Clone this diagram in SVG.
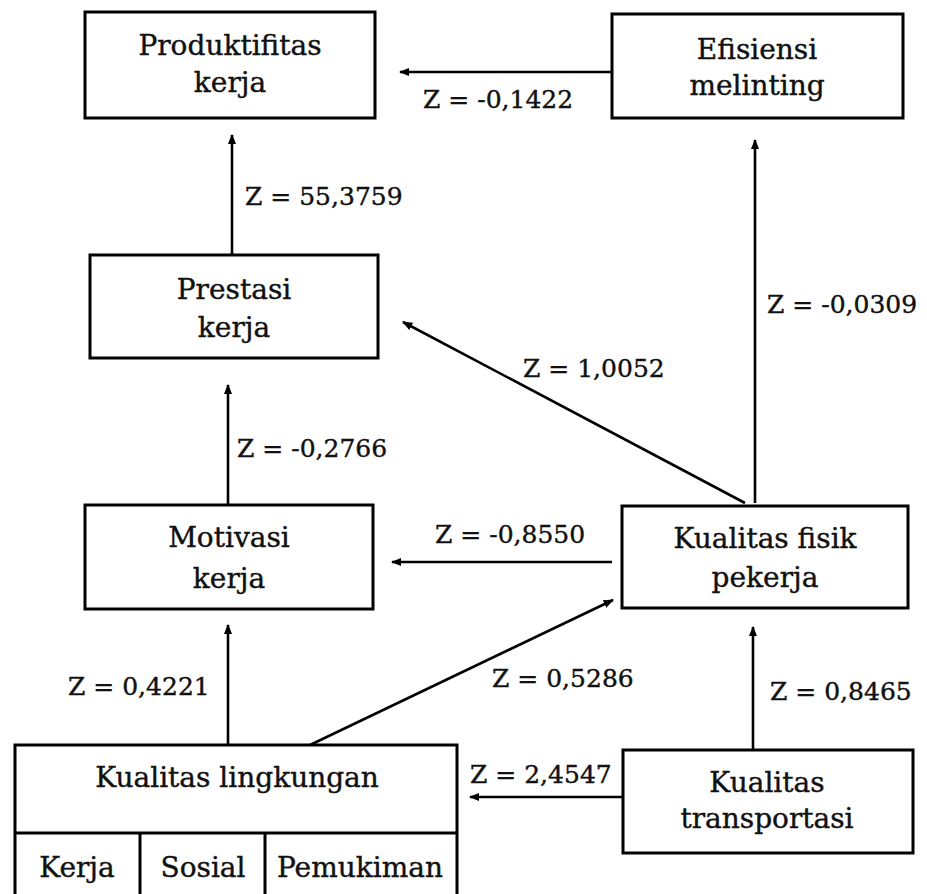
<svg xmlns="http://www.w3.org/2000/svg" width="927" height="894" viewBox="0 0 927 894">
<style>
.box{fill:#fff;stroke:#000;stroke-width:3}
.t{font-family:"DejaVu Serif","Liberation Serif",serif;font-size:28px;fill:#111;stroke:#111;stroke-width:0.4;text-anchor:middle}
.z{font-family:"DejaVu Serif","Liberation Serif",serif;font-size:25px;fill:#111;stroke:#111;stroke-width:0.4}
.c{stroke:#000;stroke-width:2.6;fill:none;marker-end:url(#ah)}
</style>
<defs>
<marker id="ah" viewBox="0 0 10 10" refX="9" refY="5" markerWidth="4" markerHeight="4" orient="auto" markerUnits="strokeWidth">
<path d="M0,1 L10,5 L0,9 Z" fill="#000"/>
</marker>
</defs>
<rect width="927" height="894" fill="#fff"/>
<g id="connectors">
<line class="c" x1="612" y1="72" x2="400" y2="72"/>
<line class="c" x1="232" y1="255" x2="232" y2="135"/>
<line class="c" x1="755" y1="503" x2="755" y2="140"/>
<line class="c" x1="745" y1="503" x2="403" y2="322"/>
<line class="c" x1="228" y1="505" x2="228" y2="385"/>
<line class="c" x1="612" y1="562" x2="392" y2="562"/>
<line class="c" x1="310" y1="745" x2="613" y2="600"/>
<line class="c" x1="228" y1="745" x2="228" y2="625"/>
<line class="c" x1="753" y1="750" x2="753" y2="627"/>
<line class="c" x1="622" y1="797" x2="470" y2="797"/>
<text class="z" x="423" y="108">Z = -0,1422</text>
<text class="z" x="245" y="205">Z = 55,3759</text>
<text class="z" x="767" y="313">Z = -0,0309</text>
<text class="z" x="523" y="377">Z = 1,0052</text>
<text class="z" x="237" y="457">Z = -0,2766</text>
<text class="z" x="435" y="543">Z = -0,8550</text>
<text class="z" x="68" y="695">Z = 0,4221</text>
<text class="z" x="492" y="687">Z = 0,5286</text>
<text class="z" x="770" y="700">Z = 0,8465</text>
<text class="z" x="470" y="783">Z = 2,4547</text>
</g>
<g id="produktifitas">
<rect class="box" x="85" y="12" width="290" height="106"/>
<text class="t" x="230" y="55">Produktifitas</text>
<text class="t" x="230" y="92">kerja</text>
</g>
<g id="efisiensi">
<rect class="box" x="612" y="14" width="291" height="104"/>
<text class="t" x="757" y="59">Efisiensi</text>
<text class="t" x="757" y="95">melinting</text>
</g>
<g id="prestasi">
<rect class="box" x="90" y="255" width="288" height="103"/>
<text class="t" x="234" y="299">Prestasi</text>
<text class="t" x="234" y="337">kerja</text>
</g>
<g id="motivasi">
<rect class="box" x="85" y="505" width="288" height="104"/>
<text class="t" x="229" y="547">Motivasi</text>
<text class="t" x="229" y="588">kerja</text>
</g>
<g id="kualitas-fisik">
<rect class="box" x="622" y="506" width="286" height="102"/>
<text class="t" x="765" y="548">Kualitas fisik</text>
<text class="t" x="765" y="587">pekerja</text>
</g>
<g id="kualitas-lingkungan">
<rect class="box" x="15" y="745" width="442" height="160"/>
<line x1="15" y1="833" x2="457" y2="833" stroke="#000" stroke-width="3"/>
<line x1="140" y1="833" x2="140" y2="905" stroke="#000" stroke-width="3"/>
<line x1="265" y1="833" x2="265" y2="905" stroke="#000" stroke-width="3"/>
<text class="t" x="237" y="787">Kualitas lingkungan</text>
<text class="t" x="77" y="877">Kerja</text>
<text class="t" x="203" y="877">Sosial</text>
<text class="t" x="360" y="877">Pemukiman</text>
</g>
<g id="kualitas-transportasi">
<rect class="box" x="623" y="750" width="290" height="103"/>
<text class="t" x="767" y="792">Kualitas</text>
<text class="t" x="767" y="828">transportasi</text>
</g>
</svg>
